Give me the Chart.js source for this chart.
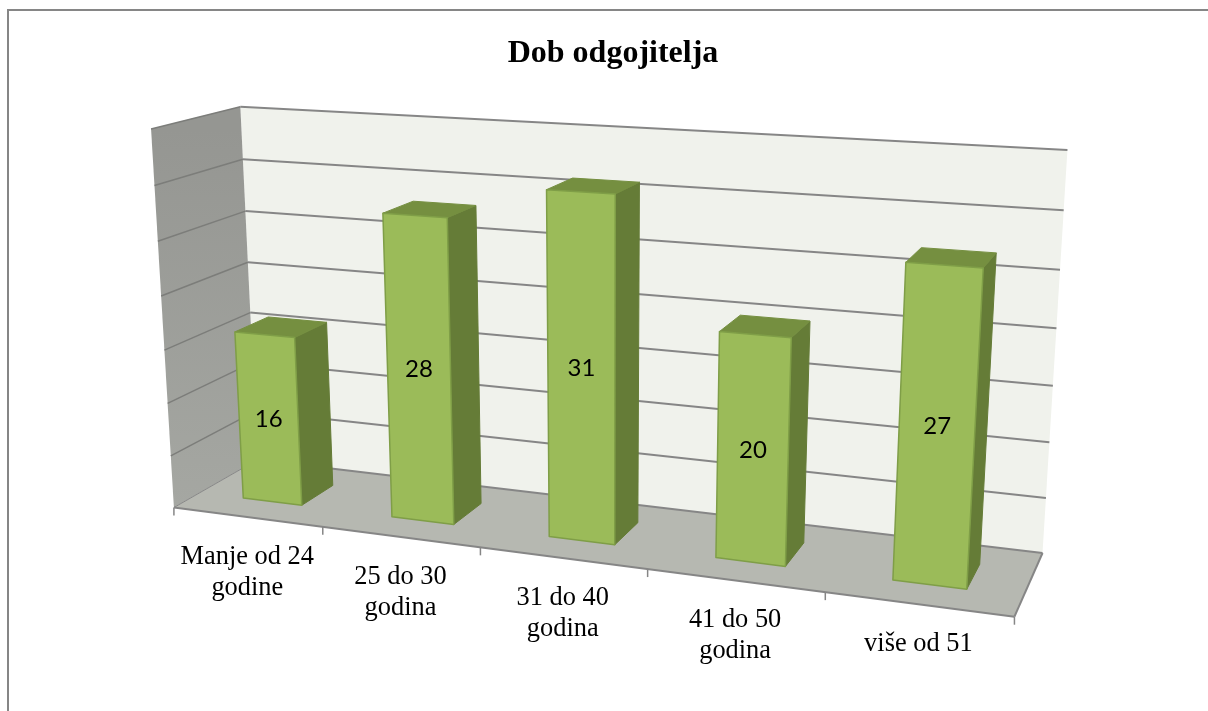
<!DOCTYPE html>
<html>
<head>
<meta charset="utf-8">
<title>Dob odgojitelja</title>
<style>
  html, body { margin: 0; background: #fff; overflow: hidden; }
  #frame { position: absolute; left: 7px; top: 9px; width: 1201px; height: 702px;
           border-left: 2px solid #868686; border-top: 2px solid #868686; box-sizing: border-box; }
  #chart { position: absolute; left: 0; top: 0; }
</style>
<script src="https://cdn.jsdelivr.net/npm/chart.js@4/dist/chart.umd.min.js"></script>
</head>
<body>
<div id="frame"></div>
<canvas id="chart" width="1208" height="711"></canvas>
<script>
// ── Data ─────────────────────────────────────────────────
const categories = [
  ['Manje od 24', 'godine'],
  ['25 do 30', 'godina'],
  ['31 do 40', 'godina'],
  ['41 do 50', 'godina'],
  ['više od 51'],
];
const values = [16, 28, 31, 20, 27];
const axisMax = 35;
const axisStep = 5;

// ── Colours ──────────────────────────────────────────────
const COL = {
  front: '#9BBB59', frontEdge: '#7F9E47',
  top: '#758F40', side: '#657C37',
  wall: '#F0F2EC', leftTop: '#959692', leftBottom: '#A5A7A2',
  floor: '#B6B8B1', line: '#868686', leftLine: '#7C7D7A',
};

// ── Camera: the box corners as [across, up, deep, screenX, screenY] ──
const boxCorners = [
  [0, 0, 0, 174.3, 507.3], [1, 0, 0, 1014.3, 617],
  [0, 1, 0, 150.7, 129],   [1, 1, 0, 1040, 180],
  [0, 0, 1, 257, 460],     [1, 0, 1, 1042.7, 552.7],
  [0, 1, 1, 240.7, 106.7], [1, 1, 1, 1067.3, 150],
];
const BAR_NEAR = 0.3;   // bar depth inside the box
const BAR_FAR = 0.7;

function solve(A, b) {
  const n = b.length;
  for (let i = 0; i < n; i++) {
    let p = i;
    for (let r = i + 1; r < n; r++) if (Math.abs(A[r][i]) > Math.abs(A[p][i])) p = r;
    [A[i], A[p]] = [A[p], A[i]];
    [b[i], b[p]] = [b[p], b[i]];
    for (let r = i + 1; r < n; r++) {
      const f = A[r][i] / A[i][i];
      for (let c = i; c < n; c++) A[r][c] -= f * A[i][c];
      b[r] -= f * b[i];
    }
  }
  const out = new Array(n).fill(0);
  for (let i = n - 1; i >= 0; i--) {
    let s = b[i];
    for (let c = i + 1; c < n; c++) s -= A[i][c] * out[c];
    out[i] = s / A[i][i];
  }
  return out;
}

function fitCamera(points) {
  const rows = [], rhs = [];
  points.forEach(([u, v, w, sx, sy]) => {
    const x = sx / 1000, y = sy / 1000;
    rows.push([u, v, w, 1, 0, 0, 0, 0, -x * u, -x * v, -x * w]); rhs.push(x);
    rows.push([0, 0, 0, 0, u, v, w, 1, -y * u, -y * v, -y * w]); rhs.push(y);
  });
  const AtA = [], Atb = [];
  for (let i = 0; i < 11; i++) {
    AtA.push([]);
    Atb.push(rows.reduce((s, r, k) => s + r[i] * rhs[k], 0));
    for (let j = 0; j < 11; j++) AtA[i].push(rows.reduce((s, r) => s + r[i] * r[j], 0));
  }
  return solve(AtA, Atb);
}
const cam = fitCamera(boxCorners);

function toScreen(u, v, w) {
  const d = cam[8] * u + cam[9] * v + cam[10] * w + 1;
  return {
    x: 1000 * (cam[0] * u + cam[1] * v + cam[2] * w + cam[3]) / d,
    y: 1000 * (cam[4] * u + cam[5] * v + cam[6] * w + cam[7]) / d,
  };
}

// flat chart pixels -> box coordinates, so everything still goes through the scales
let area = null;
const project = (px, py, w) => toScreen(
  (px - area.left) / (area.right - area.left),
  (area.bottom - py) / (area.bottom - area.top),
  w);

function face(ctx, pts, fill, stroke, lineWidth = 1) {
  ctx.beginPath();
  pts.forEach((p, i) => (i ? ctx.lineTo(p.x, p.y) : ctx.moveTo(p.x, p.y)));
  ctx.closePath();
  ctx.fillStyle = fill;
  ctx.fill();
  if (stroke) {
    ctx.strokeStyle = stroke;
    ctx.lineWidth = lineWidth;
    ctx.lineJoin = 'round';
    ctx.stroke();
  }
}

function line(ctx, a, b, color, width) {
  ctx.beginPath();
  ctx.moveTo(a.x, a.y);
  ctx.lineTo(b.x, b.y);
  ctx.strokeStyle = color;
  ctx.lineWidth = width;
  ctx.stroke();
}

// ── Bars: same element, drawn as a box ───────────────────
Chart.BarElement.prototype.draw = function (ctx) {
  const { x, y, base, width } = this.getProps(['x', 'y', 'base', 'width'], true);
  const l = x - width / 2, r = x + width / 2;
  ctx.save();
  face(ctx, [project(r, y, BAR_NEAR), project(r, y, BAR_FAR), project(r, base, BAR_FAR), project(r, base, BAR_NEAR)], COL.side, COL.side, 1);
  face(ctx, [project(l, y, BAR_NEAR), project(l, y, BAR_FAR), project(r, y, BAR_FAR), project(r, y, BAR_NEAR)], COL.top, COL.top, 1);
  face(ctx, [project(l, y, BAR_NEAR), project(r, y, BAR_NEAR), project(r, base, BAR_NEAR), project(l, base, BAR_NEAR)], this.options.backgroundColor, COL.frontEdge, 1.5);
  ctx.restore();
};

// ── Walls, floor, grid, ticks, labels ────────────────────
const box3d = {
  id: 'box3d',
  beforeDatasetsDraw(chart) {
    const { ctx, scales: { x, y } } = chart;
    area = chart.chartArea;
    const { left: L, right: R, top: T, bottom: B } = area;
    ctx.save();

    face(ctx, [project(L, T, 1), project(R, T, 1), project(R, B, 1), project(L, B, 1)], COL.wall);

    const lt = project(L, T, 0), lb = project(L, B, 0);
    const grad = ctx.createLinearGradient(0, lt.y, 0, lb.y);
    grad.addColorStop(0, COL.leftTop);
    grad.addColorStop(1, COL.leftBottom);
    face(ctx, [lt, project(L, T, 1), project(L, B, 1), lb], grad);

    face(ctx, [lb, project(R, B, 0), project(R, B, 1), project(L, B, 1)], COL.floor);

    y.ticks.forEach(t => {
      const py = y.getPixelForValue(t.value);
      line(ctx, project(L, py, 1), project(R, py, 1), COL.line, 2);
      if (t.value > 0) line(ctx, project(L, py, 0), project(L, py, 1), COL.leftLine, 1.5);
    });
    line(ctx, lb, project(L, B, 1), COL.line, 1);
    line(ctx, project(R, B, 0), project(R, B, 1), COL.line, 2);
    line(ctx, lb, project(R, B, 0), COL.line, 2);

    // ticks sit between the categories
    const slot = (R - L) / categories.length;
    for (let i = 0; i <= categories.length; i++) {
      const p = project(L + i * slot, B, 0);
      line(ctx, p, { x: p.x, y: p.y + 8 }, COL.line, 1.5);
    }

    ctx.fillStyle = '#000';
    ctx.font = '26.4px "Liberation Serif"';
    ctx.textAlign = 'center';
    ctx.textBaseline = 'alphabetic';
    categories.forEach((lines, i) => {
      const p = project(x.getPixelForValue(i), B, 0);
      lines.forEach((txt, k) => ctx.fillText(txt, p.x, p.y + 47 + k * 31));
    });
    ctx.restore();
  },
  afterDatasetsDraw(chart) {
    const { ctx } = chart;
    const bars = chart.getDatasetMeta(0).data;
    ctx.save();
    ctx.fillStyle = '#000';
    ctx.font = '24px Lato';
    ctx.textAlign = 'center';
    ctx.textBaseline = 'middle';
    bars.forEach((bar, i) => {
      const c = [
        project(bar.x - bar.width / 2, bar.y, BAR_NEAR), project(bar.x + bar.width / 2, bar.y, BAR_NEAR),
        project(bar.x + bar.width / 2, bar.base, BAR_NEAR), project(bar.x - bar.width / 2, bar.base, BAR_NEAR),
      ];
      const cx = c.reduce((s, p) => s + p.x, 0) / 4;
      const cy = c.reduce((s, p) => s + p.y, 0) / 4;
      ctx.fillText(String(values[i]), cx, cy + 1.5);
    });
    ctx.restore();
  },
};

new Chart(document.getElementById('chart'), {
  type: 'bar',
  data: {
    labels: categories,
    datasets: [{
      data: values,
      backgroundColor: COL.front,
      barPercentage: 0.4,
      categoryPercentage: 1,
      clip: false,
    }],
  },
  options: {
    responsive: false,
    animation: false,
    layout: { padding: { left: 18, top: 35 } },
    plugins: {
      legend: { display: false },
      tooltip: { enabled: false },
      title: {
        display: true,
        text: 'Dob odgojitelja',
        color: '#000',
        font: { family: '"Liberation Serif"', size: 32, weight: 'bold' },
        padding: { top: 0, bottom: 10 },
      },
    },
    scales: {
      x: { display: false },
      y: { display: false, min: 0, max: axisMax, ticks: { stepSize: axisStep } },
    },
  },
  plugins: [box3d],
});
</script>
</body>
</html>
